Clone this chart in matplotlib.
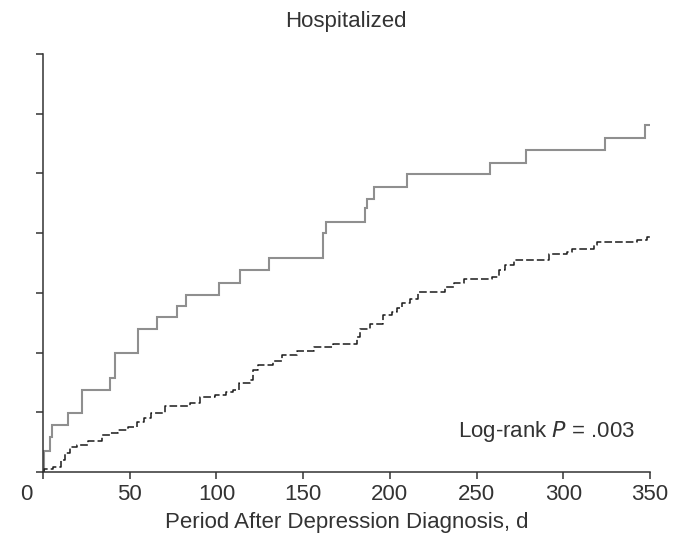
import matplotlib
matplotlib.use("Agg")
import matplotlib.pyplot as plt

plt.rcParams['font.family'] = ['Liberation Sans', 'DejaVu Sans']

# Upper (solid gray) curve: event times (days) and cumulative values (%)
solid_days = [0, 0.5, 3.9, 5.4, 14.2, 22.7, 38.7, 41.5, 55.0, 65.6, 77.5, 82.3,
              101.5, 113.7, 130.6, 161.2, 163.1, 185.4, 187.1, 190.6, 209.8,
              258.0, 278.5, 324.3, 347.4, 350.0]
solid_vals = [0.0, 1.78, 2.96, 3.94, 4.97, 6.87, 7.85, 9.94, 11.95, 13.0, 13.93, 14.8,
              15.85, 16.9, 17.9, 20.0, 20.96, 22.07, 22.9, 23.85, 24.97,
              25.9, 26.97, 28.0, 29.06, 29.06]

# Lower (dashed black) curve
dash_days = [0, 0.5, 5.6, 10.2, 12.7, 15.6, 19.4, 26.1, 33.8, 38.7, 43.5, 49.2,
             54.4, 58.3, 62.1, 70.4, 84.8, 90.6, 99.2, 105.6, 109.8, 113.3,
             119.4, 120.8, 124.2, 132.9, 137.7, 146.4, 156.0, 167.5, 181.0,
             182.5, 188.7, 196.0, 201.2, 204.4, 207.0, 211.8, 216.5, 232.0,
             236.7, 242.5, 258.8, 262.7, 266.6, 271.4, 291.6, 302.2, 305.0,
             317.5, 319.5, 342.6, 348.4, 350.0]
dash_vals = [0.0, 0.25, 0.45, 1.0, 1.57, 2.07, 2.26, 2.62, 3.1, 3.29, 3.52, 3.8,
             4.21, 4.5, 4.92, 5.55, 5.75, 6.26, 6.45, 6.73, 6.87, 7.48,
             7.7, 8.54, 8.96, 9.32, 9.8, 10.16, 10.5, 10.72, 11.33,
             11.95, 12.4, 13.15, 13.43, 13.71, 14.13, 14.46, 15.1, 15.47,
             15.8, 16.14, 16.36, 16.92, 17.34, 17.76, 18.23, 18.45, 18.68,
             19.0, 19.3, 19.4, 19.65, 19.65]

x_ticks = [0, 50, 100, 150, 200, 250, 300, 350]
y_ticks = [0, 5, 10, 15, 20, 25, 30, 35]

title = "Hospitalized"
xlabel = "Period After Depression Diagnosis, d"

fig = plt.figure(figsize=(6.86, 5.46), dpi=100)
ax = fig.add_axes([43/686, (546-472)/546, (650-43)/686, (472-54)/546])

ax.step(solid_days, solid_vals, where='post', color='#8f8f8f', lw=1.5,
        solid_joinstyle='miter')
ax.step(dash_days, dash_vals, where='post', color='#1a1a1a', lw=1.1,
        linestyle=(0, (5, 2)))

ax.set_xlim(0, 350)
ax.set_ylim(0, 35)
ax.set_xticks(x_ticks)
ax.set_yticks(y_ticks)
ax.set_yticklabels([])
labels = [str(t) for t in x_ticks]
labels[0] = ""
ax.set_xticklabels(labels)
ax.annotate("0", xy=(0, 0), xycoords=('data', 'axes fraction'),
            xytext=(-12, -9), textcoords='offset points', ha='center', va='top',
            fontsize=16, color='#333333')

for s in ['top', 'right']:
    ax.spines[s].set_visible(False)
for s in ['left', 'bottom']:
    ax.spines[s].set_linewidth(1.1)
    ax.spines[s].set_color('#333333')
ax.tick_params(axis='both', direction='out', length=5, width=1.1, color='#333333',
               labelsize=16, labelcolor='#333333', pad=4)

ax.set_xlabel(xlabel, fontsize=16, color='#333333', labelpad=5)
fig.text(346/686, 1 - 22/546, title, ha='center', va='center', fontsize=16,
         color='#333333')
ax.text(0.975, 0.096, r"Log-rank $\it{P}$ = .003", transform=ax.transAxes,
        ha='right', va='center', fontsize=16, color='#333333')

fig.savefig("out.png", dpi=100)
